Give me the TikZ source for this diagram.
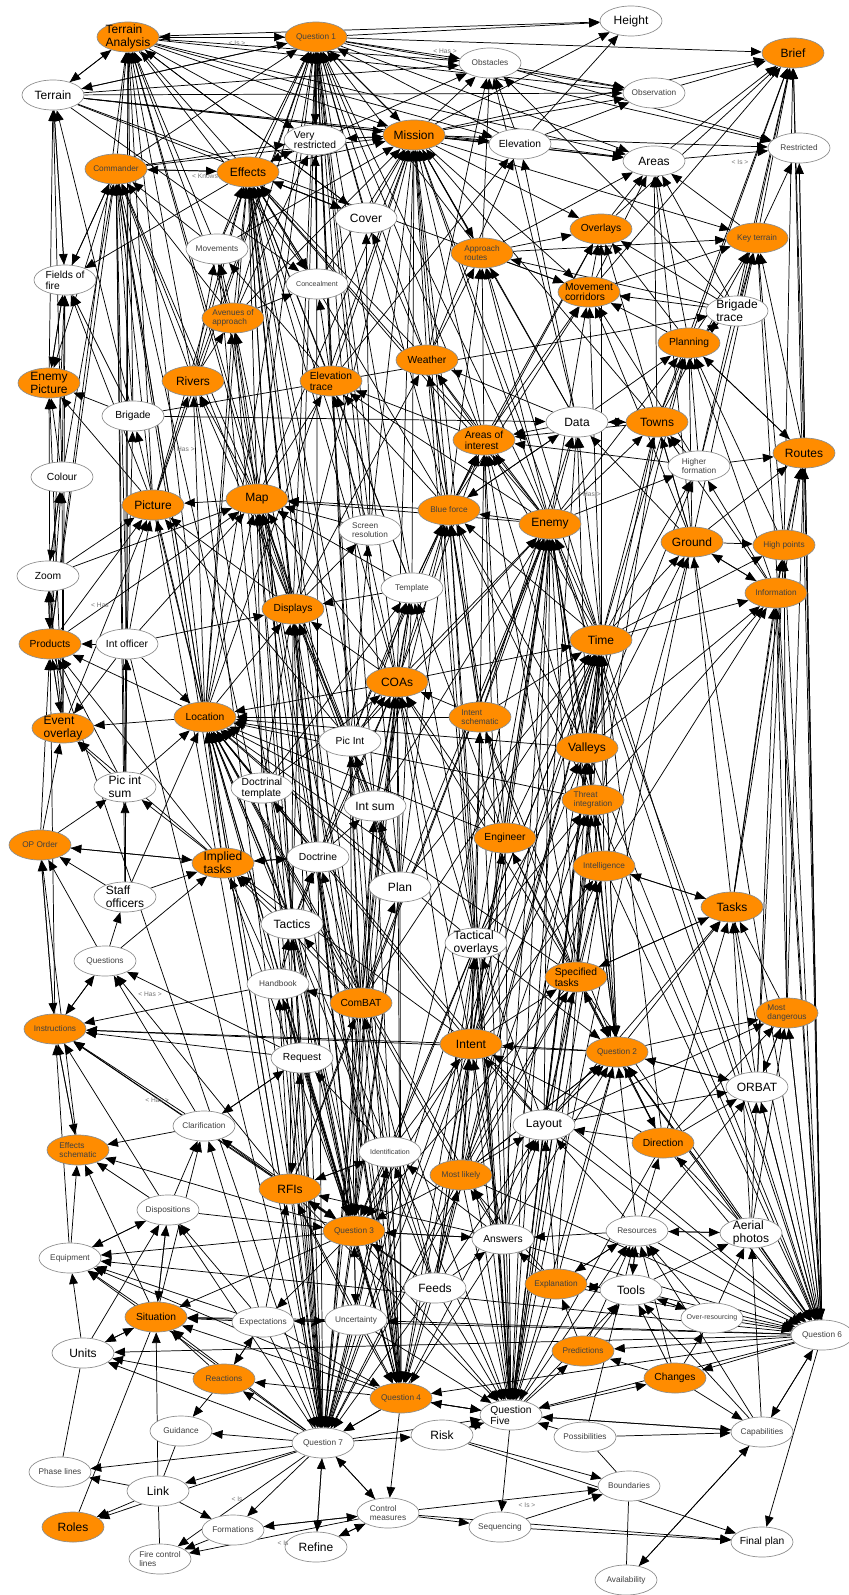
\documentclass[tikz,border=0pt]{standalone}
\usepackage{fontspec}
\setmainfont{Liberation Sans}
\usetikzlibrary{shapes.geometric,arrows.meta,backgrounds}

\definecolor{corange}{RGB}{255,140,0}
\tikzset{every picture/.style={line width=0.75pt}}
\tikzset{
  onode/.style={ellipse,draw=black!45,line width=0.5pt,fill=corange,minimum width=46.5pt,minimum height=22.5pt,inner sep=0pt},
  wnode/.style={ellipse,draw=black!45,line width=0.5pt,fill=white,minimum width=46.5pt,minimum height=22.5pt,inner sep=0pt},
  tbig/.style={font=\fontsize{9}{9.6}\selectfont,align=left,inner sep=0pt,text=black},
  tmid/.style={font=\fontsize{7.7}{8.2}\selectfont,align=left,inner sep=0pt,text=black},
  tsml/.style={font=\fontsize{6.2}{6.7}\selectfont,align=left,inner sep=0pt,text=black!75},
  ttny/.style={font=\fontsize{5.3}{5.8}\selectfont,align=left,inner sep=0pt,text=black!75},
  arr/.style={-{Triangle[length=8pt,width=6.5pt]},line width=0.55pt},
  ln/.style={line width=0.55pt},
  elbl/.style={font=\fontsize{5}{5}\selectfont,text=black!55,inner sep=0pt}
}

\begin{document}
\begin{tikzpicture}[x=0.75pt,y=0.75pt,yscale=-1,xscale=1]
\useasboundingbox (0,0) rectangle (849,1595);

% Concepts, top band
\node[onode,label={[tbig]center:{Terrain\\Analysis}}] (ta) at (128,37) {};
\node[onode,label={[tsml]center:Question 1}] (q1) at (316,37) {};
\node[wnode,label={[tbig]center:Height}] (hgt) at (631,21) {};
\node[wnode,label={[tsml]center:Obstacles}] (obs) at (490,63) {};
\node[onode,label={[tbig]center:Brief}] (brf) at (793,53) {};
\node[wnode,label={[tsml]center:Observation}] (obsv) at (654,93) {};
\node[wnode,label={[tbig]center:Terrain}] (ter) at (53,95) {};
\node[wnode,label={[tmid]center:{Very\\restricted}}] (vr) at (315,140) {};
\node[onode,label={[tbig]center:Mission}] (mis) at (414,135) {};
\node[wnode,label={[tmid]center:Elevation}] (elv) at (520,144) {};
\node[wnode,label={[tbig]center:Areas}] (area) at (654,161) {};
\node[wnode,label={[tsml]center:Restricted}] (rst) at (799,148) {};
\node[onode,label={[tsml]center:Commander}] (cmd) at (116,169) {};
\node[onode,label={[tbig]center:Effects}] (eff) at (248,172) {};
\node[wnode,label={[tbig]center:Cover}] (cov) at (366,218) {};
\node[onode,label={[tmid]center:Overlays}] (ovl) at (601,229) {};
\node[onode,label={[tsml]center:Key terrain}] (kt) at (757,238) {};
\node[wnode,label={[tsml]center:Movements}] (mov) at (217,249) {};
\node[onode,label={[tsml]center:{Approach\\routes}}] (ar) at (482,253) {};
\node[wnode,label={[tmid]center:{Fields of\\fire}}] (fof) at (65,280) {};
\node[wnode,label={[ttny]center:Concealment}] (con) at (317,284) {};
\node[onode,label={[tmid]center:{Movement\\corridors}}] (mc) at (589,292) {};
\node[wnode,label={[tbig]center:{Brigade\\trace}}] (bt) at (737,311) {};
\node[onode,label={[tsml]center:{Avenues of\\approach}}] (aoa) at (233,318) {};
\node[onode,label={[tmid]center:Planning}] (pln) at (689,343) {};
\node[onode,label={[tmid]center:Weather}] (wth) at (427,360) {};
\node[onode,label={[tbig]center:{Enemy\\Picture}}] (ep) at (49,383) {};
\node[onode,label={[tbig]center:Rivers}] (riv) at (193,381) {};
\node[onode,label={[tmid]center:{Elevation\\trace}}] (et) at (331,381) {};

% Concepts, upper middle band
\node[wnode,label={[tmid]center:Brigade}] (brg) at (133,416) {};
\node[wnode,label={[tbig]center:Data}] (data) at (577,422) {};
\node[onode,label={[tbig]center:Towns}] (twn) at (657,422) {};
\node[onode,label={[tmid]center:{Areas of\\interest}}] (aoi) at (484,440) {};
\node[onode,label={[tbig]center:Routes}] (rte) at (804,453) {};
\node[wnode,label={[tsml]center:{Higher\\formation}}] (hf) at (699,466) {};
\node[wnode,label={[tmid]center:Colour}] (col) at (62,477) {};
\node[onode,label={[tbig]center:Map}] (map) at (257,499) {};
\node[onode,label={[tbig]center:Picture}] (pic) at (153,505) {};
\node[onode,label={[tsml]center:Blue force}] (bf) at (449,510) {};
\node[onode,label={[tbig]center:Enemy}] (en) at (550,524) {};
\node[wnode,label={[tsml]center:{Screen\\resolution}}] (scr) at (370,530) {};
\node[onode,label={[tbig]center:Ground}] (gnd) at (692,542) {};
\node[onode,label={[tsml]center:High points}] (hp) at (784,545) {};
\node[wnode,label={[tmid]center:Zoom}] (zm) at (48,576) {};
\node[wnode,label={[tsml]center:Template}] (tpl) at (412,588) {};
\node[onode,label={[tsml]center:Information}] (inf) at (776,593) {};
\node[onode,label={[tmid]center:Displays}] (dsp) at (293,609) {};
\node[onode,label={[tbig]center:Time}] (tim) at (601,640) {};
\node[onode,label={[tmid]center:Products}] (prd) at (50,644) {};
\node[wnode,label={[tmid]center:Int officer}] (io) at (127,644) {};
\node[onode,label={[tbig]center:COAs}] (coa) at (397,682) {};
\node[onode,label={[tmid]center:Location}] (loc) at (205,717) {};
\node[onode,label={[tsml]center:{Intent\\schematic}}] (isc) at (480,717) {};
\node[onode,label={[tbig]center:{Event\\overlay}}] (eo) at (63,728) {};
\node[wnode,label={[tmid]center:Pic Int}] (pi) at (350,741) {};
\node[onode,label={[tbig]center:Valleys}] (val) at (587,748) {};
\node[wnode,label={[tbig]center:{Pic int\\sum}}] (pis) at (125,787) {};
\node[wnode,label={[tmid]center:{Doctrinal\\template}}] (dt) at (262,788) {};
\node[onode,label={[tsml]center:{Threat\\integration}}] (tin) at (593,800) {};
\node[wnode,label={[tbig]center:Int sum}] (isum) at (375,806) {};

% Concepts, lower middle band
\node[onode,label={[tmid]center:Engineer}] (eng) at (505,838) {};
\node[onode,label={[tsml]center:OP Order}] (opo) at (40,845) {};
\node[wnode,label={[tmid]center:Doctrine}] (doc) at (318,857) {};
\node[onode,label={[tbig]center:{Implied\\tasks}}] (imt) at (223,863) {};
\node[onode,label={[tsml]center:Intelligence}] (intl) at (604,866) {};
\node[wnode,label={[tbig]center:Plan}] (pla) at (400,887) {};
\node[wnode,label={[tbig]center:{Staff\\officers}}] (so) at (125,897) {};
\node[onode,label={[tbig]center:Tasks}] (tsk) at (732,907) {};
\node[wnode,label={[tbig]center:Tactics}] (tac) at (292,924) {};
\node[wnode,label={[tbig]center:{Tactical\\overlays}}] (tov) at (476,943) {};
\node[wnode,label={[tsml]center:Questions}] (qs) at (105,961) {};
\node[onode,label={[tmid]center:{Specified\\tasks}}] (st) at (576,977) {};
\node[wnode,label={[tsml]center:Handbook}] (hb) at (278,984) {};
\node[onode,label={[tmid]center:ComBAT}] (cb) at (361,1003) {};
\node[onode,label={[tsml]center:{Most\\dangerous}}] (md) at (787,1013) {};
\node[onode,label={[tsml]center:Instructions}] (ins) at (55,1029) {};
\node[onode,label={[tbig]center:Intent}] (itn) at (471,1044) {};
\node[onode,label={[tsml]center:Question 2}] (q2) at (617,1052) {};
\node[wnode,label={[tmid]center:Request}] (req) at (302,1058) {};
\node[wnode,label={[tbig]center:ORBAT}] (orb) at (757,1087) {};
\node[wnode,label={[tbig]center:Layout}] (lyt) at (544,1125) {};
\node[wnode,label={[tsml]center:Clarification}] (clr) at (204,1126) {};
\node[onode,label={[tmid]center:Direction}] (dir) at (663,1143) {};
\node[onode,label={[tsml]center:{Effects\\schematic}}] (es) at (78,1150) {};
\node[wnode,label={[ttny]center:Identification}] (idt) at (390,1152) {};
\node[onode,label={[tsml]center:Most likely}] (ml) at (461,1175) {};
\node[onode,label={[tbig]center:RFIs}] (rfi) at (290,1189) {};

% Concepts, bottom band
\node[wnode,label={[tsml]center:Dispositions}] (dsps) at (168,1210) {};
\node[onode,label={[tsml]center:Question 3}] (q3) at (354,1231) {};
\node[wnode,label={[tsml]center:Resources}] (rsc) at (637,1231) {};
\node[wnode,label={[tmid]center:Answers}] (ans) at (503,1239) {};
\node[wnode,label={[tbig]center:{Aerial\\photos}}] (aph) at (751,1233) {};
\node[wnode,label={[tsml]center:Equipment}] (eqp) at (70,1258) {};
\node[onode,label={[tsml]center:Explanation}] (exl) at (556,1284) {};
\node[wnode,label={[tbig]center:Feeds}] (feed) at (435,1288) {};
\node[wnode,label={[tbig]center:Tools}] (tool) at (631,1290) {};
\node[onode,label={[tmid]center:Situation}] (sit) at (156,1317) {};
\node[wnode,label={[tsml]center:Expectations}] (exp) at (263,1322) {};
\node[wnode,label={[tsml]center:Uncertainty}] (unc) at (356,1320) {};
\node[wnode,label={[ttny]center:Over-resourcing}] (ovr) at (712,1318) {};
\node[wnode,label={[tsml]center:Question 6}] (q6) at (822,1335) {};
\node[onode,label={[tsml]center:Predictions}] (pred) at (583,1351) {};
\node[wnode,label={[tbig]center:Units}] (unt) at (83,1353) {};
\node[onode,label={[tmid]center:Changes}] (chg) at (675,1378) {};
\node[onode,label={[tsml]center:Reactions}] (rea) at (224,1379) {};
\node[onode,label={[tsml]center:Question 4}] (q4) at (401,1398) {};
\node[wnode,label={[tmid]center:{Question\\Five}}] (q5) at (511,1415) {};
\node[wnode,label={[tsml]center:Guidance}] (gui) at (181,1431) {};
\node[wnode,label={[tsml]center:Capabilities}] (cpb) at (762,1432) {};
\node[wnode,label={[tsml]center:Possibilities}] (psb) at (585,1437) {};
\node[wnode,label={[tbig]center:Risk}] (risk) at (442,1435) {};
\node[wnode,label={[tsml]center:Question 7}] (q7) at (323,1443) {};
\node[wnode,label={[tsml]center:Phase lines}] (phl) at (60,1472) {};
\node[wnode,label={[tsml]center:Boundaries}] (bnd) at (629,1486) {};
\node[wnode,label={[tbig]center:Link}] (lnk) at (158,1491) {};
\node[wnode,label={[tsml]center:{Control\\measures}}] (ctl) at (388,1513) {};
\node[onode,label={[tbig]center:Roles}] (rol) at (73,1527) {};
\node[wnode,label={[tsml]center:Formations}] (frm) at (233,1530) {};
\node[wnode,label={[tsml]center:Sequencing}] (seq) at (500,1527) {};
\node[wnode,label={[tmid]center:Final plan}] (fpl) at (762,1542) {};
\node[wnode,label={[tbig]center:Refine}] (rfn) at (316,1547) {};
\node[wnode,label={[tsml]center:{Fire control\\lines}}] (fcl) at (160,1559) {};
\node[wnode,label={[tsml]center:Availability}] (avl) at (626,1580) {};

% Link names
\node[elbl] (l1) at (237,43) {< Is >};
\node[elbl] (l2) at (445,51) {< Has >};
\node[elbl] (l3) at (740,162) {< Is >};
\node[elbl] (l4) at (205,176) {< Knows};
\node[elbl] (l5) at (183,449) {< Has >};
\node[elbl] (l6) at (100,605) {< Has};
\node[elbl] (l7) at (589,494) {< Has >};
\node[elbl] (l8) at (150,994) {< Has >};
\node[elbl] (l9) at (157,1100) {< Has >};
\node[elbl] (l10) at (237,1499) {< Is};
\node[elbl] (l11) at (527,1505) {< Is >};
\node[elbl] (l12) at (283,1543) {< Is};

\begin{pgfonlayer}{background}
% Question hubs: arrows in
\foreach \s in {vr,mis,eff,cmd,cov,con,mov,aoa,et,riv,map,dsp,loc,wth,pic,ar,elv,aoi,bf,scr,tpl,coa,isum,pi,doc,tac,cb,pla} \draw[arr] (\s) -- (q1);
\foreach \s in {st,intl,tin,val,tim,en,eng,tov,lyt,ml,ans,rsc,aph,exl,isc} \draw[arr] (\s) -- (q2);
\foreach \s in {rfi,idt,cb,itn,ml,req,hb,tac,pla,isum,pi,doc,tov,st,loc,coa,dsp,map,clr,dsps,imt,dt,eff,cmd,riv} \draw[arr] (\s) -- (q3);
\foreach \s in {q3,feed,unc,exp,rfi,idt,cb,itn,ml,req,hb,tac,pla,isum,doc,tov,loc,coa,ans,pi,dsp,map,eff,et,aoa} \draw[arr] (\s) -- (q4);
\foreach \s in {ans,exl,feed,q3,ml,itn,idt,rfi,cb,lyt,tov,st,intl,tin,val,tim,en,isc,coa,eng,dir,q2,q4,unc,mis,wth,bf,aoi,data,twn,gnd} \draw[arr] (\s) -- (q5);
\foreach \s in {aph,rsc,tool,ovr,orb,dir,q2,ans,exl,md,tsk,st,intl,tim,lyt,itn,ml,gnd,inf,hp,val,en,tin} \draw[arr] (\s) -- (q6);
\foreach \s in {q3,q4,feed,unc,exp,rfi,idt,cb,tac,hb,req,pla,itn,ml,loc,coa,dsp,tov,isum,doc,st,en,tim,eff,cmd,map,pic,riv,aoa,mov,prd,io} \draw[arr] (\s) -- (q7);
% Question hubs: arrows out
\foreach \t in {ta,hgt,obs,obsv,brf,area,rst,ter,mis,vr} \draw[arr] (q1) -- (\t);
\foreach \t in {tsk,md,orb,dir,itn,ins,tim,en} \draw[arr] (q2) -- (\t);
\foreach \t in {es,eqp,sit,ans,unc,exp,ins,rfi} \draw[arr] (q3) -- (\t);
\foreach \t in {rea,ctl,q7,q5,sit,eqp,lyt} \draw[arr] (q4) -- (\t);
\foreach \t in {pred,chg,risk,seq,cpb,rsc,tool,q4} \draw[arr] (q5) -- (\t);
\foreach \t in {brf,rte,kt,rst,pred,chg,cpb,fpl,q5,md,orb,unt,sit,eqp,unc,q4} \draw[arr] (q6) -- (\t);
\foreach \t in {rea,sit,unt,phl,lnk,rol,frm,fcl,ctl,gui,risk,rfn,q5,eqp,dsps} \draw[arr] (q7) -- (\t);

% Links, top band
\foreach \t in {q1,hgt,obs,obsv,mis,vr,area,elv,ter,cov,con} \draw[arr] (ta) -- (\t);
\foreach \t in {ta,fof,mis,obs,obsv,elv,q1,cov,con,area,mc} \draw[arr] (ter) -- (\t);
\foreach \t in {ta,eff,fof,ep,vr,mis} \draw[arr] (cmd) -- (\t);
\foreach \t in {ta,vr,cmd,cov,con,mis,obs,fof} \draw[arr] (eff) -- (\t);
\foreach \t in {brf,obs,obsv,hgt,area,elv,ovl,ar,mc,kt,rst,vr} \draw[arr] (mis) -- (\t);
\foreach \t in {mis,eff} \draw[arr] (vr) -- (\t);
\foreach \t in {hgt,obs,area,obsv} \draw[arr] (elv) -- (\t);
\foreach \t in {brf,rst} \draw[arr] (area) -- (\t);
\foreach \t in {obsv,rst} \draw[arr] (obs) -- (\t);
\draw[arr] (obsv) -- (brf);
\foreach \t in {mis,eff,ta} \draw[arr] (cov) -- (\t);
\foreach \t in {brf,rst,area} \draw[arr] (kt) -- (\t);
\foreach \t in {brf,area} \draw[arr] (ovl) -- (\t);
\foreach \t in {area,ovl,kt,brf} \draw[arr] (mc) -- (\t);
\foreach \t in {kt,brf,mc,ovl,pln,obs,area,ar} \draw[arr] (bt) -- (\t);
\foreach \t in {brf,kt,area,bt,rte,mc,ovl} \draw[arr] (pln) -- (\t);
\foreach \t in {mis,obs,area,kt,ovl,mc} \draw[arr] (ar) -- (\t);
\foreach \t in {ep,cmd,ter} \draw[arr] (fof) -- (\t);
\foreach \t in {fof,ter} \draw[arr] (ep) -- (\t);
\foreach \t in {eff,ta,mis,cmd} \draw[arr] (mov) -- (\t);
\foreach \t in {eff,mis,vr} \draw[arr] (con) -- (\t);
\foreach \t in {eff,mov,ta,mis,cmd,vr,con} \draw[arr] (aoa) -- (\t);
\foreach \t in {eff,mis,elv,con,mov} \draw[arr] (et) -- (\t);
\foreach \t in {eff,cmd,ta,mov,aoa} \draw[arr] (riv) -- (\t);
\foreach \t in {mis,eff,elv,ar,cov,obs} \draw[arr] (wth) -- (\t);

% Links, upper middle band
\foreach \t in {ter,ep,fof,bt,cmd,ta,data} \draw[arr] (brg) -- (\t);
\foreach \t in {mis,ar,wth,aoi,bf,obs,elv,twn,pln} \draw[arr] (data) -- (\t);
\foreach \t in {mis,pln,kt,area,aoi,data,brf} \draw[arr] (twn) -- (\t);
\foreach \t in {mis,wth,et,eff,ar,ovl,mc} \draw[arr] (aoi) -- (\t);
\foreach \t in {brf,pln,kt} \draw[arr] (rte) -- (\t);
\foreach \t in {brf,kt,mc,twn,pln,rte,aoi} \draw[arr] (hf) -- (\t);
\foreach \t in {eff,cmd,ta,riv,aoa,pic,mis,mov,et} \draw[arr] (map) -- (\t);
\foreach \t in {cmd,ta,fof,riv,eff,ep} \draw[arr] (pic) -- (\t);
\foreach \t in {mis,eff,wth,aoi,map,et,ar,data,ovl,mc} \draw[arr] (bf) -- (\t);
\foreach \t in {mis,q1,eff,wth,aoi,bf,et,ar,pln,data,twn,mc,map,hf} \draw[arr] (en) -- (\t);
\foreach \t in {map,eff,mis,cov} \draw[arr] (scr) -- (\t);
\foreach \t in {pln,twn,kt,area,rte,inf,hp,mc,ovl,data} \draw[arr] (gnd) -- (\t);
\foreach \t in {rte,kt,brf,pln} \draw[arr] (hp) -- (\t);
\foreach \t in {col,prd,pic,map} \draw[arr] (zm) -- (\t);
\foreach \t in {ter,fof,ep,cmd,zm} \draw[arr] (col) -- (\t);
\foreach \t in {map,dsp,mis,et,aoi,bf,eff} \draw[arr] (tpl) -- (\t);
\foreach \t in {rte,hp,pln,hf,gnd,twn} \draw[arr] (inf) -- (\t);
\foreach \t in {map,eff,cmd,ta,pic,riv,aoa,mis,scr,wth} \draw[arr] (dsp) -- (\t);
\foreach \t in {en,bf,aoi,data,twn,pln,mis,mc,inf,hf,hp,gnd,ovl,ar} \draw[arr] (tim) -- (\t);
\foreach \t in {zm,col,pic,eo,ep,fof,map,ta,cmd} \draw[arr] (prd) -- (\t);
\foreach \t in {prd,loc,pic,map,dsp,brg,eo,ta,cmd} \draw[arr] (io) -- (\t);
\foreach \t in {dsp,map,en,bf,aoi,tim,mis,loc,tpl,et,eff} \draw[arr] (coa) -- (\t);
\foreach \t in {prd,eo,map,dsp,pic,riv,aoa,cmd,eff,ta,brg,mis} \draw[arr] (loc) -- (\t);
\foreach \t in {en,bf,aoi,tim,wth,data,coa,mis,loc} \draw[arr] (isc) -- (\t);
\foreach \t in {prd,zm,pic,col,ep,fof} \draw[arr] (eo) -- (\t);
\foreach \t in {loc,pic,map,dsp,coa,tpl,scr,en,bf,eff} \draw[arr] (pi) -- (\t);
\foreach \t in {tim,en,bf,data,twn,pln,gnd,hf,inf,loc} \draw[arr] (val) -- (\t);
\foreach \t in {eo,prd,loc,io,ta,cmd} \draw[arr] (pis) -- (\t);
\foreach \t in {loc,dsp,map,tpl,coa} \draw[arr] (dt) -- (\t);
\foreach \t in {tim,en,val,bf,aoi,inf,loc} \draw[arr] (tin) -- (\t);
\foreach \t in {pi,loc,coa,dsp,tpl,en,bf,eff} \draw[arr] (isum) -- (\t);

% Links, lower middle band
\foreach \t in {tim,en,bf,tpl,coa,aoi,loc} \draw[arr] (eng) -- (\t);
\foreach \t in {eo,prd,ins,imt,pis} \draw[arr] (opo) -- (\t);
\foreach \t in {loc,dsp,coa,dt,tpl,imt,isum,eff} \draw[arr] (doc) -- (\t);
\foreach \t in {loc,opo,eo,prd,pis,doc,cmd} \draw[arr] (imt) -- (\t);
\foreach \t in {tim,en,val,tin,tsk,inf,gnd} \draw[arr] (intl) -- (\t);
\foreach \t in {coa,isum,pi,tpl,dsp,map,loc,en,bf,tim} \draw[arr] (pla) -- (\t);
\foreach \t in {opo,pis,imt,io,loc,cmd} \draw[arr] (so) -- (\t);
\foreach \t in {inf,hp,rte,gnd,intl,st} \draw[arr] (tsk) -- (\t);
\foreach \t in {doc,imt,loc,dsp,map,coa,eff} \draw[arr] (tac) -- (\t);
\foreach \t in {tim,en,bf,coa,isc,val,tin,loc,tpl} \draw[arr] (tov) -- (\t);
\foreach \t in {opo,ins,so,imt} \draw[arr] (qs) -- (\t);
\foreach \t in {tim,en,tin,intl,val,tsk,isc,coa,eng,aoi,loc} \draw[arr] (st) -- (\t);
\foreach \t in {tac,doc,imt,loc,ins} \draw[arr] (hb) -- (\t);
\foreach \t in {tac,hb,doc,pla,coa,loc,dsp,map,pi,tpl,isum,imt,en,tim,eff} \draw[arr] (cb) -- (\t);
\foreach \t in {tsk,inf,rte,hp,orb} \draw[arr] (md) -- (\t);
\foreach \t in {opo,qs,es,prd} \draw[arr] (ins) -- (\t);
\foreach \t in {st,tov,tim,en,coa,isc,tin,eng,val,intl,loc,imt,ins} \draw[arr] (itn) -- (\t);
\foreach \t in {hb,clr,qs,ins,tac,rfi} \draw[arr] (req) -- (\t);
\foreach \t in {tsk,md,inf,en,hp,q2} \draw[arr] (orb) -- (\t);
\foreach \t in {itn,st,tsk,q2,md,orb,intl,tov,val,tim,en,loc} \draw[arr] (lyt) -- (\t);
\foreach \t in {ins,es,qs,req} \draw[arr] (clr) -- (\t);
\foreach \t in {q2,orb,md,tsk,itn,st,lyt,tim} \draw[arr] (dir) -- (\t);
\foreach \t in {ins,opo} \draw[arr] (es) -- (\t);
\foreach \t in {rfi,req,cb,itn,loc,tim} \draw[arr] (idt) -- (\t);
\foreach \t in {itn,st,tov,q2,lyt,intl,tin,tim,en,loc} \draw[arr] (ml) -- (\t);
\foreach \t in {clr,req,idt,hb,cb,tac,ins,qs,loc,en} \draw[arr] (rfi) -- (\t);

% Links, bottom band
\foreach \t in {eqp,sit,es,clr,ins} \draw[arr] (dsps) -- (\t);
\foreach \t in {aph,ans,tool,exl,dir,orb,lyt} \draw[arr] (rsc) -- (\t);
\foreach \t in {ml,itn,lyt,idt,q3,rfi,tim,en,loc} \draw[arr] (ans) -- (\t);
\foreach \t in {orb,md,tsk,dir,q2,rsc} \draw[arr] (aph) -- (\t);
\foreach \t in {ins,dsps,es} \draw[arr] (eqp) -- (\t);
\foreach \t in {ans,rsc,tool,ml,lyt,tim} \draw[arr] (exl) -- (\t);
\foreach \t in {ans,ml,q3,idt,rfi,cb,itn,tov,lyt,tim,en,loc} \draw[arr] (feed) -- (\t);
\foreach \t in {rsc,exl,aph,ovr} \draw[arr] (tool) -- (\t);
\foreach \t in {eqp,dsps,es,unt,clr} \draw[arr] (sit) -- (\t);
\foreach \t in {sit,dsps,eqp,rea,unc,rfi,clr} \draw[arr] (exp) -- (\t);
\foreach \t in {exp,sit,q3,idt,rfi} \draw[arr] (unc) -- (\t);
\foreach \t in {rsc,tool,aph} \draw[arr] (ovr) -- (\t);
\foreach \t in {exl,tool,rsc} \draw[arr] (pred) -- (\t);
\foreach \t in {eqp,dsps,sit} \draw[arr] (unt) -- (\t);
\foreach \t in {pred,tool,rsc,ovr,cpb} \draw[arr] (chg) -- (\t);
\foreach \t in {sit,exp,gui,unt} \draw[arr] (rea) -- (\t);
\foreach \t in {q6,q5,avl,tool,rsc,aph} \draw[arr] (cpb) -- (\t);
\foreach \t in {cpb,q5,rsc} \draw[arr] (psb) -- (\t);
\foreach \t in {q5,bnd,fpl} \draw[arr] (risk) -- (\t);
\foreach \t in {phl,rol,frm,sit} \draw[arr] (lnk) -- (\t);
\foreach \t in {rfn,fcl,frm,seq,bnd,fpl,q7} \draw[arr] (ctl) -- (\t);
\foreach \t in {fcl,ctl} \draw[arr] (frm) -- (\t);
\foreach \t in {fpl,bnd} \draw[arr] (seq) -- (\t);
\foreach \t in {q7,ctl} \draw[arr] (rfn) -- (\t);
\draw[arr] (avl) -- (cpb);
\draw[ln] (lnk) -- (gui);
\draw[ln] (lnk) -- (fcl);
\draw[ln] (unt) -- (phl);
\draw[ln] (rol) -- (sit);
\draw[ln] (psb) -- (bnd);
\draw[ln] (bnd) -- (avl);
\draw[ln] (rst) -- (q6);
\end{pgfonlayer}

\end{tikzpicture}
\end{document}
